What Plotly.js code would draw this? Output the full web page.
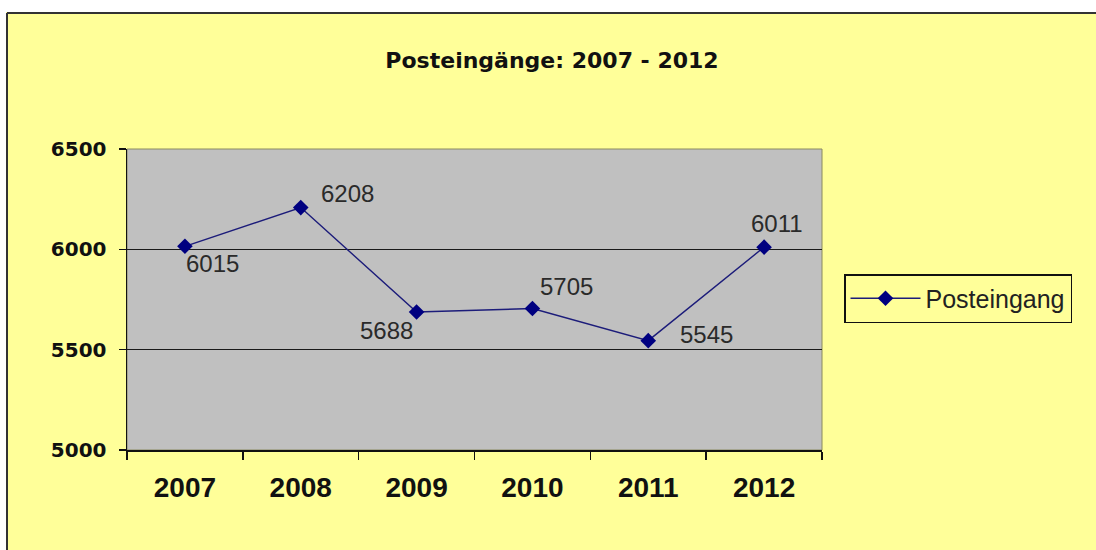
<!DOCTYPE html>
<html>
<head>
<meta charset="utf-8">
<script src="https://cdn.plot.ly/plotly-3.0.1.min.js"></script>
<style>
  html, body { margin: 0; padding: 0; background: #ffffff; overflow: hidden; }
  #chart { width: 1096px; height: 550px; }
</style>
</head>
<body>
<div id="chart"></div>
<script>
// ---- data ----
const years = ['2007', '2008', '2009', '2010', '2011', '2012'];
const posteingang = [6015, 6208, 5688, 5705, 5545, 6011];
const seriesName = 'Posteingang';
const chartTitle = 'Posteingänge: 2007 - 2012';
const yTicks = [5000, 5500, 6000, 6500];

// ---- label placement (pixel offsets, style only) ----
const labelShiftX = [28, 47, -30, 34, 58, 13];
const labelShiftY = [-17, 14, -19, 22, 6, 24];

const yellow = '#FFFF99';
const gray = '#C0C0C0';

// plot-area geometry in pixels (for paper-relative shapes)
const L = 127, R = 822, T = 149, B = 450;
const px2x = p => (p - L) / (R - L);
const px2y = p => (B - p) / (B - T);

const trace = {
  x: years,
  y: posteingang,
  type: 'scatter',
  mode: 'lines+markers',
  name: seriesName,
  line: { color: '#1c1c7a', width: 1.4 },
  marker: { symbol: 'diamond', size: 12, color: '#000080', line: { width: 0 } }
};

const annotations = years.map((yr, i) => ({
  x: i, y: posteingang[i], xref: 'x', yref: 'y',
  text: String(posteingang[i]),
  showarrow: false,
  xshift: labelShiftX[i], yshift: labelShiftY[i],
  font: { family: 'Liberation Sans, Arial, sans-serif', size: 24, color: '#2a2a2a' }
}));

const layout = {
  width: 1096, height: 550,
  margin: { l: L, r: 1096 - R, t: T, b: 550 - B, pad: 0 },
  paper_bgcolor: yellow,
  plot_bgcolor: gray,
  showlegend: true,
  title: {
    text: chartTitle,
    font: { family: 'DejaVu Sans, sans-serif', size: 22, weight: 'bold', color: '#111111' },
    xref: 'paper', x: px2x(552), xanchor: 'center',
    yref: 'container', y: 1 - 60 / 550, yanchor: 'middle'
  },
  xaxis: {
    type: 'category',
    range: [-0.5, 5.5],
    showline: true, linecolor: '#111111', linewidth: 1.5,
    ticks: 'outside', tickson: 'boundaries', ticklen: 8, tickcolor: '#111111', tickwidth: 1.5,
    showgrid: false, zeroline: false,
    ticklabelstandoff: 12,
    tickfont: { family: 'Liberation Sans, Arial, sans-serif', size: 28, weight: 'bold', color: '#111111' },
    fixedrange: true
  },
  yaxis: {
    range: [5000, 6500],
    tickvals: yTicks,
    ticktext: yTicks.map(String),
    showline: true, linecolor: '#111111', linewidth: 1.5,
    ticks: 'outside', ticklen: 7, tickcolor: '#111111', tickwidth: 1.5,
    showgrid: true, gridcolor: '#1a1a1a', gridwidth: 1.5,
    zeroline: false,
    ticklabelstandoff: 8,
    tickfont: { family: 'DejaVu Sans, sans-serif', size: 20, weight: 'bold', color: '#111111' },
    fixedrange: true
  },
  legend: {
    x: px2x(844), xanchor: 'left',
    y: px2y(298.5), yanchor: 'middle',
    bgcolor: yellow, bordercolor: '#111111', borderwidth: 1.5,
    itemwidth: 70,
    font: { family: 'Liberation Sans, Arial, sans-serif', size: 25, color: '#222222' }
  },
  shapes: [
    // white strip at top
    { type: 'rect', xref: 'paper', yref: 'paper', layer: 'above',
      x0: px2x(-5), x1: px2x(1105), y0: px2y(12), y1: px2y(-5),
      fillcolor: '#ffffff', line: { width: 0 } },
    // white strip at left
    { type: 'rect', xref: 'paper', yref: 'paper', layer: 'above',
      x0: px2x(-5), x1: px2x(6), y0: px2y(560), y1: px2y(-5),
      fillcolor: '#ffffff', line: { width: 0 } },
    // outer border: top and left edges
    { type: 'line', xref: 'paper', yref: 'paper', layer: 'above',
      x0: px2x(7), x1: px2x(1110), y0: px2y(13), y1: px2y(13),
      line: { color: '#333333', width: 2 } },
    { type: 'line', xref: 'paper', yref: 'paper', layer: 'above',
      x0: px2x(7), x1: px2x(7), y0: px2y(13), y1: px2y(560),
      line: { color: '#333333', width: 2 } },
    // plot-area outline
    { type: 'rect', xref: 'paper', yref: 'paper', layer: 'below',
      x0: 0, x1: 1, y0: 0, y1: 1,
      fillcolor: gray, line: { color: '#8a8a60', width: 1 } }
  ],
  annotations: annotations
};

Plotly.newPlot('chart', [trace], layout, { displayModeBar: false, staticPlot: true });
</script>
</body>
</html>
